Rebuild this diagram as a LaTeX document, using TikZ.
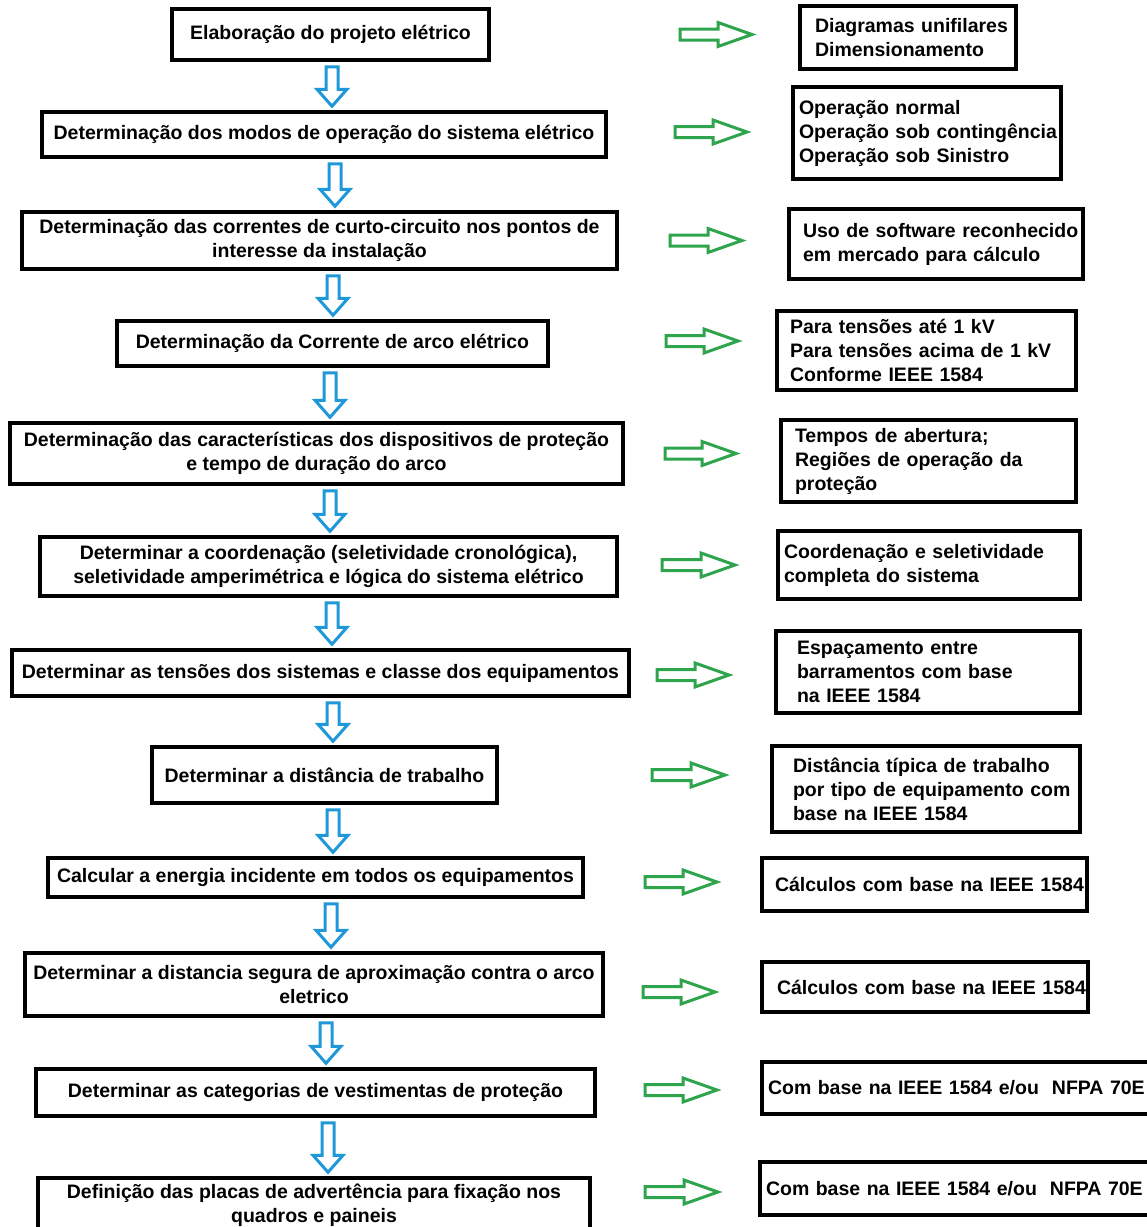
\documentclass[tikz,border=0pt]{standalone}
\usepackage{fontspec}
\setmainfont{Liberation Sans}
\usetikzlibrary{calc}
\definecolor{flowblue}{RGB}{30,152,216}
\definecolor{flowgreen}{RGB}{46,164,76}

% hollow arrow pointing down, from one step box to the next
\newcommand{\downblock}[3]{%
  \coordinate (ax) at (#3,0);
  \coordinate (t) at (ax |- #1.south);
  \coordinate (h) at (ax |- #2.north);
  \draw[flowblue, line width=3pt] ($(t)+(-6,5)$) -- ($(t)+(6,5)$) -- ($(h)+(6,-21)$) -- ($(h)+(15,-21)$)
    -- ($(h)+(0,-4)$) -- ($(h)+(-15,-21)$) -- ($(h)+(-6,-21)$) -- cycle;
}
% hollow arrow pointing right, beside a step box
\newcommand{\rightblock}[4]{%
  \coordinate (ax) at (#2,0);
  \coordinate (s) at ($(ax |- #1.east)+(0,#4)$);
  \coordinate (e) at ($(s)+({#3-#2},0)$);
  \draw[flowgreen, line width=3pt] ($(s)+(0,-5.5)$) -- ($(e)+(-34,-5.5)$) -- ($(e)+(-34,-12)$) -- (e)
    -- ($(e)+(-34,12)$) -- ($(e)+(-34,5.5)$) -- ($(s)+(0,5.5)$) -- cycle;
}
% note text, left aligned with a given left margin
\newcommand{\notetext}[2]{\leftskip=#1pt\rightskip=0pt plus 1fil minus 40pt\relax #2\par}

\begin{document}
\begin{tikzpicture}[x=1pt, y=-1pt, every node/.style={font=\fontsize{19.5}{24}\selectfont\bfseries},
    stepbox/.style={draw, line width=3.5pt, inner sep=0pt, align=center},
    notebox/.style={draw, line width=3.5pt, inner sep=0pt, align=left}]
    \useasboundingbox (0,0) rectangle (1147,1227);
    \clip (0,0) rectangle (1147,1227);

    % steps
    \node[stepbox, minimum width=317, minimum height=51] (p1) at (330.5,34.5) {Elaboração do projeto elétrico};
    \node[stepbox, minimum width=564, minimum height=45] (p2) at (324,134.5) {Determinação dos modos de operação do sistema elétrico};
    \node[stepbox, minimum width=595, minimum height=57] (p3) at (319.5,240.5) {Determinação das correntes de curto-circuito nos pontos de\\interesse da instalação};
    \node[stepbox, minimum width=431, minimum height=45] (p4) at (332.5,343.5) {Determinação da Corrente de arco elétrico};
    \node[stepbox, minimum width=613, minimum height=61] (p5) at (316.5,453.5) {Determinação das características dos dispositivos de proteção\\e tempo de duração do arco};
    \node[stepbox, minimum width=577, minimum height=59] (p6) at (328.5,566.5) {Determinar a coordenação (seletividade cronológica),\\seletividade amperimétrica e lógica do sistema elétrico};
    \node[stepbox, minimum width=617, minimum height=46] (p7) at (320.5,673) {Determinar as tensões dos sistemas e classe dos equipamentos};
    \node[stepbox, minimum width=345, minimum height=56] (p8) at (324.5,775) {Determinar a distância de trabalho};
    \node[stepbox, minimum width=535, minimum height=39] (p9) at (315.5,877.5) {Calcular a energia incidente em todos os equipamentos};
    \node[stepbox, minimum width=578, minimum height=63] (p10) at (314,984.5) {Determinar a distancia segura de aproximação contra o arco\\eletrico};
    \node[stepbox, minimum width=559, minimum height=47] (p11) at (315.5,1092.5) {Determinar as categorias de vestimentas de proteção};
    \node[stepbox, minimum width=552, minimum height=54] (p12) at (314,1205) {Definição das placas de advertência para fixação nos\\quadros e paineis};

    % notes
    \node[notebox, text width=216, minimum height=63] (n1) at (908,37.5) {\notetext{15}{Diagramas unifilares\\Dimensionamento}};
    \node[notebox, text width=268, minimum height=92] (n2) at (927,133) {\notetext{6}{Operação normal\\Operação sob contingência\\Operação sob Sinistro}};
    \node[notebox, text width=294, minimum height=70] (n3) at (936,244) {\notetext{14}{Uso de software reconhecido\\em mercado para cálculo}};
    \node[notebox, text width=299, minimum height=79] (n4) at (926.5,350.5) {\notetext{13}{Para tensões até 1 kV\\Para tensões acima de 1 kV\\Conforme IEEE 1584}};
    \node[notebox, text width=295, minimum height=82] (n5) at (928.5,461) {\notetext{14}{Tempos de abertura;\\Regiões de operação da\\proteção}};
    \node[notebox, text width=302, minimum height=68] (n6) at (929,565) {\notetext{6}{Coordenação e seletividade\\completa do sistema}};
    \node[notebox, text width=304, minimum height=82] (n7) at (928,672) {\notetext{21}{Espaçamento entre\\barramentos com base\\na IEEE 1584}};
    \node[notebox, text width=308, minimum height=86] (n8) at (926,789) {\notetext{21}{Distância típica de trabalho\\por tipo de equipamento com\\base na IEEE 1584}};
    \node[notebox, text width=325, minimum height=53] (n9) at (924.5,884.5) {\notetext{13}{Cálculos com base na IEEE 1584}};
    \node[notebox, text width=326, minimum height=50] (n10) at (925,987) {\notetext{15}{Cálculos com base na IEEE 1584}};
    \node[notebox, text width=418, minimum height=52] (n11) at (971,1088) {\notetext{6}{Com base na IEEE 1584 e/ou\ \ NFPA 70E}};
    \node[notebox, text width=420, minimum height=53] (n12) at (970,1188.5) {\notetext{6}{Com base na IEEE 1584 e/ou\ \ NFPA 70E}};

    % flow downwards
    \downblock{p1}{p2}{332}
    \downblock{p2}{p3}{335}
    \downblock{p3}{p4}{333}
    \downblock{p4}{p5}{330}
    \downblock{p5}{p6}{330}
    \downblock{p6}{p7}{332}
    \downblock{p7}{p8}{333}
    \downblock{p8}{p9}{333}
    \downblock{p9}{p10}{331}
    \downblock{p10}{p11}{326}
    \downblock{p11}{p12}{328}

    % arrows to the notes
    \rightblock{p1}{680}{752}{0}
    \rightblock{p2}{675}{747}{-2.5}
    \rightblock{p3}{670}{742}{0}
    \rightblock{p4}{666}{738}{-2.5}
    \rightblock{p5}{665}{736}{0}
    \rightblock{p6}{662}{735}{-1.5}
    \rightblock{p7}{657}{729}{2}
    \rightblock{p8}{652}{725}{0}
    \rightblock{p9}{645}{717}{4.5}
    \rightblock{p10}{643}{715}{7.5}
    \rightblock{p11}{645}{717}{-2.5}
    \rightblock{p12}{645}{718}{-13}
\end{tikzpicture}
\end{document}
